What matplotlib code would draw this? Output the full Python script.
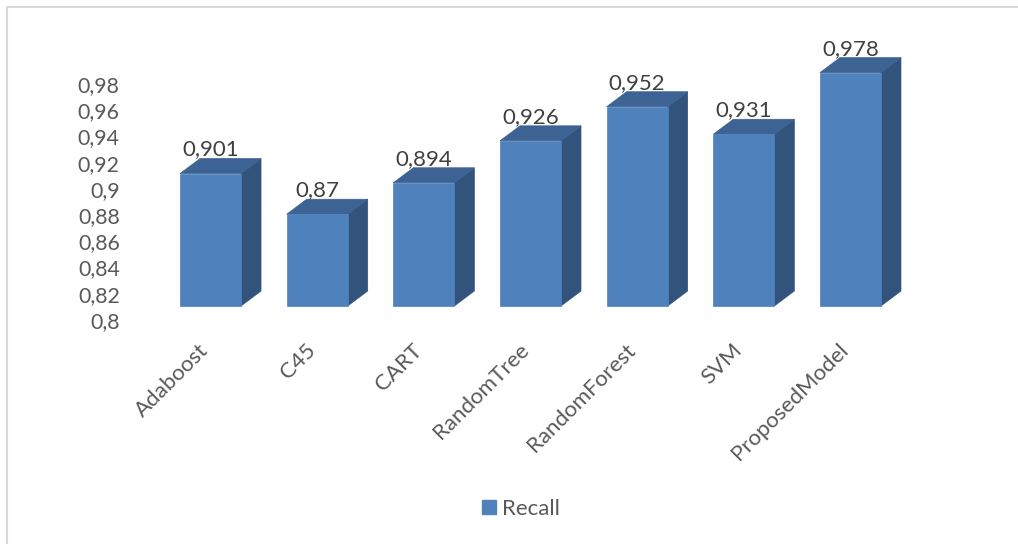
import matplotlib
matplotlib.use("Agg")
import matplotlib.pyplot as plt
from matplotlib.patches import Polygon, Rectangle, Patch
from matplotlib.transforms import ScaledTranslation

# Recall per classifier
categories = ["Adaboost", "C45", "CART", "RandomTree", "RandomForest", "SVM", "ProposedModel"]
recall = [0.901, 0.87, 0.894, 0.926, 0.952, 0.931, 0.978]
value_labels = ["0,901", "0,87", "0,894", "0,926", "0,952", "0,931", "0,978"]
yticks = [0.80, 0.82, 0.84, 0.86, 0.88, 0.90, 0.92, 0.94, 0.96, 0.98]
ytick_labels = ["0,8", "0,82", "0,84", "0,86", "0,88", "0,9", "0,92", "0,94", "0,96", "0,98"]
series_name = "Recall"

FONT = ["Lato", "DejaVu Sans"]
plt.rcParams["font.family"] = FONT

W, H, DPI = 1018, 544, 100
fig = plt.figure(figsize=(W / DPI, H / DPI), dpi=DPI)

# chart frame (light grey border)
fig.patches.append(Rectangle((7 / W, -0.1), 1.2, (H - 7) / H + 0.1, transform=fig.transFigure,
                             fill=False, edgecolor="#d9d9d9", linewidth=1.5))

ax_l, ax_r, ax_b, ax_t = 157.2, 903.8, 320.0, 57.8
ax = fig.add_axes([ax_l / W, (H - ax_b) / H, (ax_r - ax_l) / W, (ax_b - ax_t) / H])
ymin, ymax = 0.8, 1.0
ax.set_xlim(-0.5, len(categories) - 0.5)
ax.set_ylim(ymin, ymax)
for s in ax.spines.values():
    s.set_visible(False)
ax.patch.set_alpha(0)

ax.set_yticks(yticks)
ax.set_yticklabels(ytick_labels)
ax.tick_params(axis="y", length=0, pad=27, labelsize=15.3, labelcolor="#595959")
ax.set_xticks([])

# pixel -> data scale for the 3-D depth
px_x = (ax_r - ax_l) / (len(categories))
px_y = (ax_b - ax_t) / (ymax - ymin)
depth_dx = 20 / px_x
depth_dy = 15 / px_y
bar_w = 61 / px_x

lift = ax.transData + ScaledTranslation(0, 14 / DPI, fig.dpi_scale_trans)

front_c = "#4f81bd"
side_c = "#32537b"
top_c = "#3c6394"

for i, v in enumerate(recall):
    x0, x1 = i - bar_w / 2, i + bar_w / 2
    side = Polygon([(x1, ymin), (x1 + depth_dx, ymin + depth_dy),
                    (x1 + depth_dx, v + depth_dy), (x1, v)],
                   closed=True, facecolor=side_c, edgecolor=side_c, lw=0.5, transform=lift)
    top = Polygon([(x0, v), (x0 + depth_dx, v + depth_dy),
                   (x1 + depth_dx, v + depth_dy), (x1, v)],
                  closed=True, facecolor=top_c, edgecolor=top_c, lw=0.5, transform=lift)
    front = Rectangle((x0, ymin), bar_w, v - ymin, facecolor=front_c,
                      edgecolor=front_c, lw=0.5, transform=lift)
    for p in (side, top, front):
        p.set_clip_on(False)
        ax.add_patch(p)
    ax.annotate(value_labels[i], xy=(i, v), xytext=(0, 38), textcoords="offset pixels",
                ha="center", va="center", fontsize=16, color="#404040", annotation_clip=False)
    ax.annotate(categories[i], xy=(i, ymin), xytext=(-12, -20), textcoords="offset pixels",
                ha="right", va="top", rotation=45, rotation_mode="anchor",
                fontsize=16, color="#595959", annotation_clip=False)

handle = Patch(facecolor=front_c, edgecolor=front_c)
fig.legend([handle], [series_name], loc="center", bbox_to_anchor=(521 / W, 1 - 509 / H),
           frameon=False, fontsize=16, labelcolor="#595959",
           handlelength=0.62, handleheight=0.62, handletextpad=0.3)

fig.savefig("out.png", dpi=DPI, facecolor="white")
